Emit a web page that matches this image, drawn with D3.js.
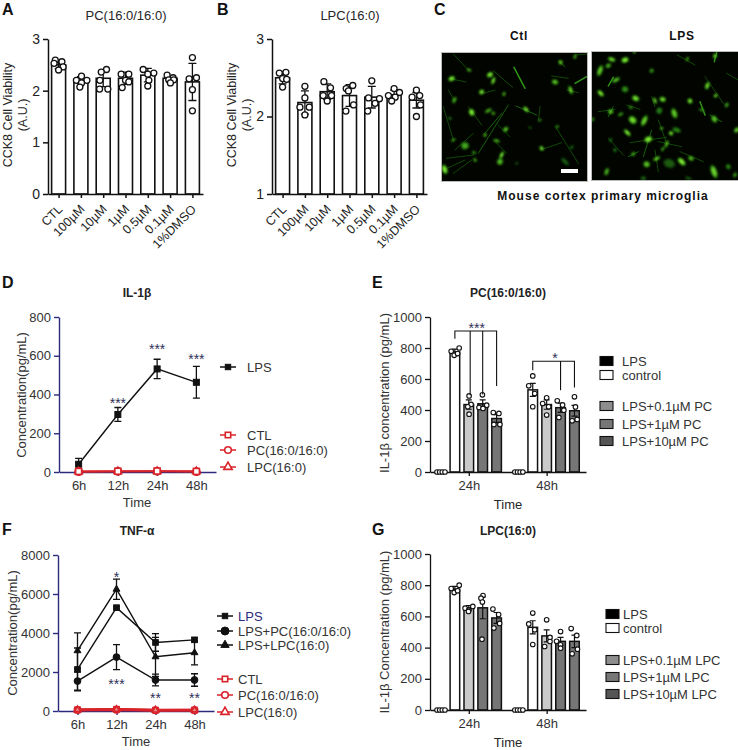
<!DOCTYPE html>
<html><head><meta charset="utf-8">
<script src="https://cdnjs.cloudflare.com/ajax/libs/d3/7.8.5/d3.min.js"></script>
<style>
html,body{margin:0;padding:0;background:#fff}
svg{display:block}
text{font-family:"Liberation Sans",Arial,sans-serif;fill:#262626}
</style></head><body><svg id="c" width="738" height="750"></svg>
<script>
// ---------- Panels A and B ----------
const doseCats = ["CTL","100µM","10µM","1µM","0.5µM","0.1µM","1%DMSO"];
const aMeans = [2.5,2.2,2.24,2.24,2.3,2.24,2.17];
const aErrs  = [0.08,0.07,0.16,0.12,0.13,0.05,0.36];
const aVals = [[2.59,2.56,2.53,2.46,2.40],[2.28,2.2,2.2,2.15,2.07],[2.41,2.36,2.2,2.03,2.03],[2.32,2.32,2.2,2.17,2.06],[2.41,2.34,2.32,2.2,2.09],[2.3,2.25,2.21,2.21,2.15],[2.64,2.25,2.23,2.02,1.61]];
const aOffs = [[-.22,.22,-.3,.3,0],[.04,-.3,.4,.04,-.07],[.22,-.13,-.22,-.24,.31],[-.29,.22,0,.22,-.22],[-.31,.4,0,.07,0],[-.2,.2,-.09,.24,.02],[0,.27,-.22,0,0]];
const bMeans = [2.5,2.18,2.32,2.27,2.25,2.28,2.21];
const bErrs  = [0.08,0.15,0.1,0.14,0.14,0.06,0.1];
const bVals = [[2.57,2.56,2.49,2.48,2.38],[2.39,2.24,2.12,2.12,2.02],[2.45,2.37,2.27,2.27,2.2],[2.4,2.36,2.33,2.15,2.07],[2.46,2.24,2.23,2.17,2.07],[2.36,2.31,2.27,2.25,2.2],[2.34,2.27,2.25,2.15,2.0]];
const bOffs = [[.22,-.22,0,.27,0],[0,0,-.33,.29,0],[-.22,.22,-.27,.29,0],[.22,-.22,-.07,.27,-.24],[0,-.22,.51,.22,-.27],[0,.36,-.38,.07,-.16],[0,.22,-.29,.27,0]];

// ---------- Panels D and F ----------
const timeCats = ["6h","12h","24h","48h"];
const dLps = [40,297,532,463];
const dLpsErr = [30,36,50,82];
const dCtl = [3,4,5,3];
const dPc = [2,3,4,2];
const dLpc = [2,3,3,3];
const fLps = [2130,5300,3515,3650];
const fLpsErr = [1100,60,450,100];
const fPc = [1535,2765,1590,1590];
const fPcErr = [470,640,300,320];
const fLpc = [3090,6245,2780,2990];
const fLpcErr = [920,520,1000,620];
const fCtl = [60,90,40,50];
const fPcC = [50,70,40,40];
const fLpcC = [60,80,45,55];

// ---------- Panels E and G ----------
const barSlots = [0,1,2,3,4,5.6,6.6,7.6,8.6,9.6];
const barFills = ["#fff","#fff","#c9c9c9","#767676","#767676","#fff","#fff","#c9c9c9","#767676","#767676"];
const eMeans = [0,775,435,440,345,0,530,435,415,395];
const eErrs  = [0,18,30,25,25,0,42,30,30,35];
const eVals = [[0,0,0,0],[779,753,764,800],[491,436,421,373],[498,431,416,410],[384,378,307,307],[0,0,0,0],[620,556,506,421],[479,442,421,367],[459,433,399,352],[485,420,339,330]];
const eOffs = [[-.4,-.13,.13,.4],[-.37,-.07,.27,.43],[.03,.23,-.1,.03],[-.03,.4,-.37,.03],[-.33,.23,-.27,.33],[-.4,-.13,.13,.4],[0,-.4,.2,0],[0,-.4,.2,0],[-.33,.2,.33,-.17],[0,.1,.27,-.23]];
const gMeans = [0,775,655,655,590,0,530,475,440,440];
const gErrs  = [0,18,15,70,35,0,42,38,25,40];
const gVals = [[0,0,0,0],[779,753,764,800],[664,653,640,632],[734,717,692,454],[647,612,555,525],[0,0,0,0],[621,552,514,420],[578,465,439,407],[503,440,418,396],[522,478,390,360]];
const gOffs = [[-.4,-.13,.13,.4],[-.37,-.07,.27,.43],[.4,-.37,0,-.03],[.03,-.17,-.03,-.07],[-.37,.2,.3,-.27],[-.4,-.13,.13,.4],[0,-.4,.2,0],[0,.33,.33,-.2],[0,-.4,0,0],[-.33,.23,.3,-.23]];
const eLegend = ["LPS+0.1µM PC","LPS+1µM PC","LPS+10µM PC"];
const gLegend = ["LPS+0.1µM LPC","LPS+1µM LPC","LPS+10µM LPC"];
const legendFills = ["#8e8e8e","#777777","#555555"];

// ---------- Panel C micrographs (cell x, y, radius, brightness; neurite x1,y1,x2,y2,width) ----------
const ctlCells = [[87,60,4,.8],[35,86,7,1],[150,74,7,1],[160,92,6,1],[125,126,6,1],[43,150,6,.7],[192,132,4,.8],[95,187,8,1],[145,182,6,.7],[160,190,4,.7],[258,178,6,1],[30,205,3,.5],[345,96,7,.8],[392,120,7,.9],[362,37,5,.9],[405,20,4,.8],[197,238,6,.8],[135,255,4,.8],[170,272,5,.8],[75,287,10,.65],[40,270,4,.7],[102,308,4,.6],[105,330,4,.7],[185,315,6,1],[180,335,8,.75],[14,358,9,1],[305,295,5,1],[352,230,3,.7],[375,335,8,.3],[300,210,3,.6],[270,233,2,.6],[230,340,2,.5],[395,292,4,.35]];
const ctlLines = [[40,12,85,60,1],[30,86,78,96,1],[160,62,218,112,1],[222,52,255,115,3],[205,165,115,310,2],[185,190,135,250,2],[228,168,290,195,2],[345,228,415,340,1.5],[300,300,365,278,1],[405,100,440,80,4],[355,32,375,50,2],[335,78,385,85,1],[405,15,440,12,1],[25,120,45,155,1],[10,170,40,270,1],[45,300,100,250,1],[20,325,100,315,1],[40,370,95,330,1],[14,358,75,330,1],[130,130,165,120,1],[85,170,125,225,1],[175,225,210,260,1],[300,170,295,215,1],[380,120,415,128,1],[160,270,200,310,1]];
const lpsCells = [[65,28,7,.9],[105,30,8,1],[55,47,6,.7],[30,62,10,.8],[185,62,5,.6],[292,27,4,.7],[375,18,5,.9],[133,5,3,1],[78,90,7,.8],[105,118,8,.55],[32,130,7,1],[137,145,8,.95],[218,148,7,.9],[195,152,5,1],[300,153,6,1],[352,107,7,.9],[377,137,4,1],[410,165,5,.65],[335,180,4,.7],[62,185,6,.85],[92,193,5,.6],[122,172,4,.6],[128,210,10,.9],[163,212,10,.85],[208,182,8,.45],[253,190,10,.8],[373,207,8,.8],[8,208,4,.6],[112,248,7,1],[243,250,5,1],[260,240,8,.5],[175,268,9,1],[215,235,3,.9],[230,282,6,.8],[130,312,5,.65],[218,297,4,.7],[62,270,4,.4],[75,300,4,.5],[200,326,6,.9],[170,343,8,.8],[275,335,9,1],[303,325,6,.8],[238,340,14,.28],[372,365,12,.85],[415,350,6,.5],[50,365,7,.7],[440,240,6,.9],[435,375,5,.6],[295,385,5,.3],[160,385,6,.3]];
const lpsLines = [[55,108,70,82,5],[262,15,315,45,1],[373,35,380,8,3],[410,70,445,90,1],[345,80,400,160,1.5],[330,155,345,195,3],[360,195,395,215,2],[25,185,75,178,1],[55,200,70,170,2],[110,165,150,178,1],[120,278,230,262,1],[185,240,160,320,2],[205,210,230,280,1.5],[205,275,275,290,1.5],[115,320,145,305,2],[270,305,340,335,1],[195,300,205,365,1],[55,265,100,315,1],[185,140,195,170,1]];
const cWidthDomain = [0,450];
const cHeightDomain = [0,402];
const cellAspects = [1.35,.85,1.15,1.5,.95];
const cellAngles = [20,70,-30,110,45,-65];

// ---------- Drawing ----------
const svg = d3.select("#c");
const NAVY = "#2c2a7c", RED = "#d8232a", STAR = "#2e2e58";
const defs = svg.append("defs");
defs.append("filter").attr("id","glow").attr("x","-60%").attr("y","-60%").attr("width","220%").attr("height","220%")
  .append("feGaussianBlur").attr("stdDeviation",.95);
defs.append("filter").attr("id","soft").append("feGaussianBlur").attr("stdDeviation",0.5);

function txt(x,y,s,o={}){
  const t = svg.append("text").attr("x",x).attr("y",y).text(s)
    .attr("font-size",o.size||13).attr("text-anchor",o.anchor||"middle");
  if(o.bold) t.attr("font-weight","bold");
  if(o.color) t.style("fill",o.color);
  if(o.rotate!==undefined) t.attr("transform",`rotate(${o.rotate} ${x} ${y})`);
  if(o.spacing) t.attr("letter-spacing",o.spacing);
  return t;
}
function styleAxis(g,color,w){
  g.selectAll("path").attr("stroke",color).attr("stroke-width",w).attr("fill","none");
  g.selectAll("line").attr("stroke",color).attr("stroke-width",w);
  g.selectAll("text").attr("font-size",13).style("fill","#333");
  g.attr("font-family",null);
}
function ptCircle(g,x,y,r,sw){
  g.append("circle").attr("cx",x).attr("cy",y).attr("r",r).attr("fill","#fff").attr("stroke","#111").attr("stroke-width",sw);
}

// Panels A / B
function dosePanel(o){
  const y = d3.scaleLinear().domain(o.domain).range([194,39]);
  const x = d3.scalePoint().domain(doseCats).range(o.xr).padding(.475);
  const g = svg.append("g");
  doseCats.forEach((c,i)=>{
    g.append("rect").attr("x",x(c)-7).attr("width",14).attr("y",y(o.means[i])).attr("height",y(o.domain[0])-y(o.means[i]))
      .attr("fill","#fff").attr("stroke","#111").attr("stroke-width",1.6);
  });
  doseCats.forEach((c,i)=>{
    const hi=y(o.means[i]+o.errs[i]), lo=y(o.means[i]-o.errs[i]);
    g.append("path").attr("d",`M${x(c)} ${hi}V${lo}M${x(c)-4} ${hi}H${x(c)+4}M${x(c)-4} ${lo}H${x(c)+4}`).attr("stroke","#111").attr("stroke-width",1.3).attr("fill","none");
    o.vals[i].forEach((v,j)=>ptCircle(g,x(c)+o.offs[i][j]*15,y(v),3,1.3));
  });
  const ax = svg.append("g").attr("transform",`translate(${o.xr[0]},0)`).call(d3.axisLeft(y).tickValues(o.ticks).tickFormat(d3.format("d")).tickSize(5).tickSizeOuter(0));
  styleAxis(ax,"#111",1.5); ax.selectAll("text").attr("font-size",14).style("fill","#222");
  const bx = svg.append("g").attr("transform","translate(0,194)").call(d3.axisBottom(x).tickSize(4).tickSizeOuter(0));
  styleAxis(bx,"#111",1.5);
  bx.selectAll("text").attr("text-anchor","end").attr("dx",0).attr("dy",0).attr("y",0).attr("x",0)
    .attr("transform","translate(4,16) rotate(-45)").attr("font-size",12.5).style("fill","#222");
  txt(o.xl,115,"CCK8 Cell Viability",{size:12.5,rotate:-90});
  txt(o.xl+15,115,"(A.U.)",{size:12.5,rotate:-90});
}
dosePanel({domain:[0,3],ticks:[0,1,2,3],means:aMeans,errs:aErrs,vals:aVals,offs:aOffs,xr:[48,203],xl:12});
dosePanel({domain:[1,3],ticks:[1,2,3],means:bMeans,errs:bErrs,vals:bVals,offs:bOffs,xr:[272,427],xl:236});
txt(126,20,"PC(16:0/16:0)",{size:13});
txt(350,20,"LPC(16:0)",{size:13});
[["A",2,15],["B",217,15],["C",434,15],["D",2,288],["E",372,288],["F",2,535],["G",372,535]].forEach(d=>txt(d[1],d[2],d[0],{size:16,bold:true,anchor:"start",color:"#111"}));

// Panel C
function micro(cells,lines,x0,y0,w,h,cropTop){
  const sx = d3.scaleLinear().domain(cWidthDomain).range([x0-2,x0-2+150]);
  const sy = d3.scaleLinear().domain(cHeightDomain).range([cropTop,cropTop+134]);
  const green = d3.scaleLinear().domain([0,.5,1]).range(["#082205","#2a8a14","#86f036"]);
  const id = "cl"+x0;
  defs.append("clipPath").attr("id",id).append("rect").attr("x",x0).attr("y",y0).attr("width",w).attr("height",h);
  svg.append("rect").attr("x",x0-.5).attr("y",y0-.5).attr("width",w+1).attr("height",h+1).attr("fill","#020400").attr("stroke","#bbb").attr("stroke-width",1);
  const g = svg.append("g").attr("clip-path",`url(#${id})`);
  const gl = g.append("g").attr("filter","url(#soft)");
  lines.forEach(l=>gl.append("line").attr("x1",sx(l[0])).attr("y1",sy(l[1])).attr("x2",sx(l[2])).attr("y2",sy(l[3]))
     .attr("stroke",l[4]>=3?"#2f9416":l[4]>=2?"#1a6a0e":"#134f0a").attr("stroke-width",l[4]>=3?1.5:.9).attr("stroke-linecap","round"));
  const gc = g.append("g").attr("filter","url(#glow)");
  cells.forEach((c,i)=>{
    const a=cellAspects[i%cellAspects.length], t=`rotate(${cellAngles[i%cellAngles.length]} ${sx(c[0])} ${sy(c[1])})`;
    gc.append("ellipse").attr("cx",sx(c[0])).attr("cy",sy(c[1])).attr("rx",(c[2]/3+.7)*a).attr("ry",(c[2]/3+.7)/a).attr("transform",t).attr("fill",green(c[3]*.5));
    gc.append("ellipse").attr("cx",sx(c[0])).attr("cy",sy(c[1])).attr("rx",c[2]/3*.75*a).attr("ry",c[2]/3*.75/a).attr("transform",t).attr("fill",green(c[3]));
  });
}
micro(ctlCells,ctlLines,442,53,145,128,50);
micro(lpsCells,lpsLines,592,52,146,128,50);
svg.append("rect").attr("x",561).attr("y",169).attr("width",17).attr("height",4).attr("fill","#fff");
txt(519,40,"Ctl",{size:12,bold:true,color:"#111",spacing:.6});
txt(682,40,"LPS",{size:12,bold:true,color:"#111",spacing:.8});
txt(603,200,"Mouse cortex primary microglia",{size:12,bold:true,color:"#111",spacing:1});

// Panels D / F
function marker(g,kind,x,y,color,open,s,fillOpen){
  const fill = open?(fillOpen||"#fff"):color, sw = open?1.6:1;
  if(kind==="s") g.append("rect").attr("x",x-s).attr("y",y-s).attr("width",2*s).attr("height",2*s).attr("fill",fill).attr("stroke",color).attr("stroke-width",sw);
  if(kind==="c") g.append("circle").attr("cx",x).attr("cy",y).attr("r",s+.6).attr("fill",fill).attr("stroke",color).attr("stroke-width",sw);
  if(kind==="t") g.append("path").attr("d",d3.symbol(d3.symbolTriangle,s*s*2.6)()).attr("transform",`translate(${x},${y})`).attr("fill",fill).attr("stroke",color).attr("stroke-width",sw);
}
function linePanel(o){
  const y = d3.scaleLinear().domain([0,o.max]).range([o.y0,o.y1]);
  const x = d3.scalePoint().domain(timeCats).range(o.xr).padding(.5);
  const line = d3.line().x((d,i)=>x(timeCats[i])).y(d=>y(d));
  const ax = svg.append("g").attr("transform",`translate(${o.xr[0]},0)`).call(d3.axisLeft(y).tickValues(o.ticks).tickFormat(d3.format("d")).tickSize(5).tickSizeOuter(0));
  styleAxis(ax,NAVY,1.4);
  const bx = svg.append("g").attr("transform",`translate(0,${o.y0})`).call(d3.axisBottom(x).tickSize(4).tickSizeOuter(0));
  styleAxis(bx,NAVY,1.4);
  bx.selectAll("text").attr("dy",0).attr("y",o.tickDy);
  const g = svg.append("g");
  o.series.forEach(s=>{
    g.append("path").attr("d",line(s.v)).attr("fill","none").attr("stroke",s.color).attr("stroke-width",s.open?o.redW:1.4);
    if(s.e) s.v.forEach((v,i)=>{
      const cx=x(timeCats[i]), hi=y(v+s.e[i]), lo=y(v-s.e[i]);
      g.append("path").attr("d",`M${cx} ${hi}V${lo}M${cx-3.5} ${hi}H${cx+3.5}M${cx-3.5} ${lo}H${cx+3.5}`).attr("stroke","#111").attr("stroke-width",1.3).attr("fill","none");
    });
    s.v.forEach((v,i)=>marker(g,s.k,x(timeCats[i]),y(v),s.color,s.open,s.open?o.openS:o.s,o.redFill));
  });
  o.stars.forEach(st=>txt(x(st[0]),y(st[1])+7,st[2],{size:14,color:STAR}));
  o.legend.forEach(l=>{
    svg.append("line").attr("x1",o.lx).attr("x2",o.lx+16).attr("y1",l.y).attr("y2",l.y).attr("stroke",l.color).attr("stroke-width",1.5);
    marker(svg,l.k,o.lx+8,l.y,l.color,l.open,l.k==="c"&&!l.open?3.4:(l.k==="t"?3.4:2.7));
    txt(o.lx+o.lt,l.y+4.5,l.t,{size:13,anchor:"start",color:l.tc||"#333"});
  });
}
linePanel({max:800,ticks:[0,200,400,600,800],y0:472,y1:317,xr:[59,216],tickDy:18,redW:1.6,s:3,openS:3,
  series:[{v:dLps,e:dLpsErr,k:"s",color:"#111"},{v:dLpc,k:"t",color:RED,open:true},{v:dPc,k:"c",color:RED,open:true},{v:dCtl,k:"s",color:RED,open:true}],
  stars:[["12h",365,"***"],["24h",645,"***"],["48h",595,"***"]],
  lx:220,lt:27,legend:[{y:367,k:"s",color:"#111",t:"LPS"},{y:435,k:"s",color:RED,open:true,t:"CTL"},{y:450,k:"c",color:RED,open:true,t:"PC(16:0/16:0)"},{y:467,k:"t",color:RED,open:true,t:"LPC(16:0)"}]});
linePanel({max:8000,ticks:[0,2000,4000,6000,8000],y0:711,y1:555,xr:[58,214],tickDy:18,redW:2.6,s:2.8,openS:2.6,redFill:"#e88a8a",
  series:[{v:fLps,e:fLpsErr,k:"s",color:"#111"},{v:fPc,e:fPcErr,k:"c",color:"#111"},{v:fLpc,e:fLpcErr,k:"t",color:"#111"},{v:fCtl,k:"s",color:RED,open:true},{v:fPcC,k:"c",color:RED,open:true},{v:fLpcC,k:"t",color:RED,open:true}],
  stars:[["12h",7000,"*"],["12h",1500,"***"],["24h",750,"**"],["48h",750,"**"]],
  lx:217,lt:21,legend:[{y:616,k:"s",color:"#111",t:"LPS",tc:NAVY},{y:631,k:"c",color:"#111",t:"LPS+PC(16:0/16:0)"},{y:645,k:"t",color:"#111",t:"LPS+LPC(16:0)"},{y:679,k:"s",color:RED,open:true,t:"CTL"},{y:695,k:"c",color:RED,open:true,t:"PC(16:0/16:0)"},{y:712,k:"t",color:RED,open:true,t:"LPC(16:0)"}]});
txt(137,297,"IL-1β",{size:12,bold:true,color:"#222"});
txt(137,535,"TNF-α",{size:12,bold:true,color:"#222"});
txt(137,507,"Time",{size:13,color:"#333"});
txt(136,746,"Time",{size:13,color:"#333"});
txt(26,395,"Concentration(pg/mL)",{size:13,rotate:-90,color:"#333"});
txt(17,633,"Concentration(pg/mL)",{size:13,rotate:-90,color:"#333"});

// Panels E / G
function barPanel(o){
  const y = d3.scaleLinear().domain([0,1000]).range([o.y0,o.y1]);
  const x = d3.scaleLinear().domain([-.79,10.43]).range([430,586]);
  const g = svg.append("g");
  barSlots.forEach((s,i)=>{
    if(o.means[i]>0){
      g.append("rect").attr("x",x(s)-4.8).attr("width",9.6).attr("y",y(o.means[i])).attr("height",o.y0-y(o.means[i]))
       .attr("fill",barFills[i]).attr("stroke","#111").attr("stroke-width",1.5);
    }
  });
  const ax = svg.append("g").attr("transform","translate(430,0)").call(d3.axisLeft(y).tickValues([0,200,400,600,800,1000]).tickFormat(d3.format("d")).tickSize(5).tickSizeOuter(0));
  styleAxis(ax,"#111",1.3);
  const bx = svg.append("g").attr("transform",`translate(0,${o.y0})`).call(d3.axisBottom(x).tickValues([2,7.6]).tickFormat((d,i)=>["24h","48h"][i]).tickSize(4).tickSizeOuter(0));
  styleAxis(bx,"#111",1.3);
  bx.selectAll("text").attr("dy",0).attr("y",18);
  barSlots.forEach((s,i)=>{
    if(o.means[i]>0){
      const cx=x(s), hi=y(o.means[i]+o.errs[i]), lo=y(o.means[i]-o.errs[i]);
      g.append("path").attr("d",`M${cx} ${hi}V${lo}M${cx-3} ${hi}H${cx+3}M${cx-3} ${lo}H${cx+3}`).attr("stroke","#111").attr("stroke-width",1.2).attr("fill","none");
    }
    o.vals[i].forEach((v,j)=>ptCircle(svg,x(s)+o.offs[i][j]*10,y(v),2.3,1.1));
  });
  (o.brackets||[]).forEach(b=>{
    const top=y(b.top);
    svg.append("path").attr("d",`M${x(b.s[0])} ${y(b.ends[0])}V${top}H${x(b.s[b.s.length-1])}V${y(b.ends[b.s.length-1])}`+b.s.slice(1,-1).map((s,i)=>`M${x(s)} ${top}V${y(b.ends[i+1])}`).join(""))
      .attr("fill","none").attr("stroke","#111").attr("stroke-width",1.1);
    txt(x(b.mid),top+2,b.label,{size:14,color:STAR});
  });
  svg.append("text").attr("x",o.tx).attr("y",o.y0+37).attr("text-anchor","middle").attr("font-size",13).text("Time");
  o.swatches.forEach(w=>{
    svg.append("rect").attr("x",o.lx).attr("y",w.y-4.5).attr("width",o.lw).attr("height",9).attr("fill",w.f).attr("stroke","#111").attr("stroke-width",1.1);
    txt(o.lt,w.y+4.5,w.t,{size:13,anchor:"start",color:"#333"});
  });
}
barPanel({y0:472,y1:317,means:eMeans,errs:eErrs,vals:eVals,offs:eOffs,tx:508,lx:600,lw:13,lt:622,
  brackets:[{s:[1,2.1,3,4],ends:[860,495,500,555],top:910,mid:2.57,label:"***"},{s:[6.6,8.6,9.6],ends:[656,528,545],top:715,mid:8.2,label:"*"}],
  swatches:[{y:361,f:"#000",t:"LPS"},{y:375,f:"#fff",t:"control"},{y:406,f:legendFills[0],t:eLegend[0]},{y:424,f:legendFills[1],t:eLegend[1]},{y:441,f:legendFills[2],t:eLegend[2]}]});
barPanel({y0:710,y1:554,means:gMeans,errs:gErrs,vals:gVals,offs:gOffs,tx:508,lx:606,lw:13,lt:623,
  swatches:[{y:614,f:"#000",t:"LPS"},{y:628,f:"#fff",t:"control"},{y:660,f:legendFills[0],t:gLegend[0]},{y:677,f:legendFills[1],t:gLegend[1]},{y:694,f:legendFills[2],t:gLegend[2]}]});
txt(508,297,"PC(16:0/16:0)",{size:12,bold:true,color:"#222"});
txt(508,535,"LPC(16:0)",{size:12,bold:true,color:"#222"});
txt(389,393,"IL-1β concentration (pg/mL)",{size:13,rotate:-90,color:"#333"});
txt(389,632,"IL-1β Concentration (pg/mL)",{size:13,rotate:-90,color:"#333"});
</script></body></html>
